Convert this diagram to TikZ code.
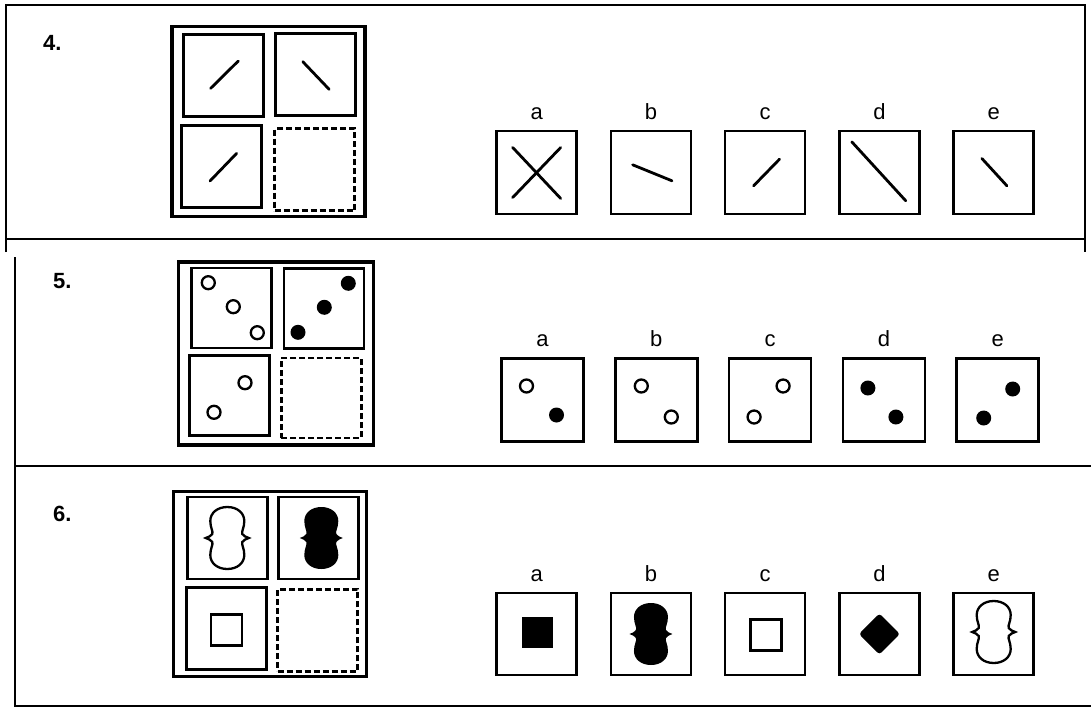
\documentclass[tikz,border=0pt]{standalone}
\usepackage{fontspec}
\setmainfont{Liberation Sans}
\usetikzlibrary{positioning}
\tikzset{
panel/.style={line width=2.2pt},
matframe/.style={draw,line width=3.4pt,inner sep=0pt},
mcell/.style={draw,line width=2.8pt,minimum width=80pt,minimum height=82pt,inner sep=0pt},
emptycell/.style={mcell,dash pattern=on 6pt off 3pt},
opt/.style={draw,line width=2.5pt,minimum width=80pt,minimum height=83pt,inner sep=0pt},
letter/.style={font=\fontsize{22}{24}\selectfont,inner sep=0pt},
num/.style={font=\fontsize{22}{24}\selectfont\bfseries,inner sep=0pt,anchor=base west},
bar/.style={line width=2.8pt,line cap=round},
ring/.style={draw,line width=2.3pt},
pinch/.pic={
\path[pic actions] (0,-31) .. controls (10,-31) and (17,-25) .. (17,-17)
.. controls (17,-10) and (14,-7) .. (15,-4)
.. controls (16,-2) and (19,-1) .. (21.5,0)
.. controls (19,1) and (16,2) .. (15,4)
.. controls (14,7) and (17,10) .. (17,17)
.. controls (17,25) and (10,31) .. (0,31)
.. controls (-10,31) and (-17,25) .. (-17,17)
.. controls (-17,10) and (-14,7) .. (-15,4)
.. controls (-16,2) and (-19,1) .. (-21.5,0)
.. controls (-19,-1) and (-16,-2) .. (-15,-4)
.. controls (-14,-7) and (-17,-10) .. (-17,-17)
.. controls (-17,-25) and (-10,-31) .. (0,-31) -- cycle;
}
}

\begin{document}
\begin{tikzpicture}[x=1pt,y=-1pt]
\useasboundingbox (0,0) rectangle (1091,709);

% panels
\draw[panel] (6,252) -- (6,5) -- (1085,5) -- (1085,252);
\draw[panel] (6,239) -- (1085,239);
\draw[panel] (15,257) -- (15,706) -- (1091,706);
\draw[panel] (15,466) -- (1091,466);

\node[num](n4) at (43,51){4.};
\node[num](n5) at (53,288){5.};
\node[num](n6) at (53,521){6.};

% item 4
\node[matframe,minimum width=193pt,minimum height=190pt](m4) at (268.3,121.7){};
\node[mcell](m4tl) at (223.7,75.8){};
\node[mcell](m4tr) at (315.8,74.2){};
\node[mcell](m4bl) at (221.7,166.7){};
\node[emptycell](m4br) at (314.5,169.5){};
\draw[bar] (m4tl.center) ++(-13,12.5) -- ++(27.6,-27.3);
\draw[bar] (m4tr.center) ++(-13,-12.5) -- ++(26.3,27.6);
\draw[bar] (m4bl.center) ++(-11.7,14.3) -- ++(26.7,-27.7);

\node[opt](o4a) at (536.7,172.5){};
\foreach \p/\q in {a/b,b/c,c/d,d/e}
\node[opt,right=31.75pt of o4\p](o4\q){};
\foreach \q in {a,b,c,d,e}
\node[letter,above=10pt of o4\q](l4\q){\q};
\draw[bar] (o4a.center) ++(-24,-25) -- ++(48,51);
\draw[bar] (o4a.center) ++(24,-25) -- ++(-48,50);
\draw[bar] (o4b.center) ++(-18.3,-7.7) -- ++(39.3,16);
\draw[bar] (o4c.center) ++(-11.7,13.4) -- ++(26,-26.7);
\draw[bar] (o4d.center) ++(-27.7,-30.7) -- ++(54,59);
\draw[bar] (o4e.center) ++(-11.8,-14) -- ++(25,27.3);

% item 5
\node[matframe,minimum width=195pt,minimum height=183pt](m5) at (275.8,353.3){};
\node[mcell,minimum height=80pt](m5tl) at (231.7,308){};
\node[mcell,minimum height=80pt](m5tr) at (324,308.3){};
\node[mcell,minimum height=80pt](m5bl) at (229.5,395.8){};
\node[emptycell,minimum height=80pt](m5br) at (321.2,398){};
\foreach \dx/\dy in {-23.4/-25.3,1.6/-1.3,25.6/24.7}
\draw[ring] (m5tl.center) ++(\dx,\dy) circle[radius=6.5];
\foreach \dx/\dy in {24.3/-25,0.3/-1,-26/24}
\fill (m5tr.center) ++(\dx,\dy) circle[radius=7.5];
\foreach \dx/\dy in {15.5/-13.1,-15.5/16.5}
\draw[ring] (m5bl.center) ++(\dx,\dy) circle[radius=6.5];

\node[opt,minimum width=82pt](o5a) at (542.5,400){};
\foreach \p/\q in {a/b,b/c,c/d,d/e}
\node[opt,minimum width=82pt,right=29.3pt of o5\p](o5\q){};
\foreach \q in {a,b,c,d,e}
\node[letter,above=10pt of o5\q](l5\q){\q};
\draw[ring] (o5a.center) ++(-16,-14) circle[radius=6.5];
\fill (o5a.center) ++(14,15) circle[radius=7.5];
\draw[ring] (o5b.center) ++(-15,-14) circle[radius=6.5];
\draw[ring] (o5b.center) ++(15,17) circle[radius=6.5];
\draw[ring] (o5c.center) ++(13,-14) circle[radius=6.5];
\draw[ring] (o5c.center) ++(-16,17) circle[radius=6.5];
\fill (o5d.center) ++(-16,-12) circle[radius=7.5];
\fill (o5d.center) ++(12,17) circle[radius=7.5];
\fill (o5e.center) ++(15,-11) circle[radius=7.5];
\fill (o5e.center) ++(-14,18) circle[radius=7.5];

% item 6
\node[matframe,minimum width=193pt,minimum height=185pt](m6) at (270,584.2){};
\node[mcell](m6tl) at (227.3,538){};
\node[mcell](m6tr) at (318.3,538){};
\node[mcell](m6bl) at (226.7,628.8){};
\node[emptycell](m6br) at (317.5,630.3){};
\pic[draw,line width=2.3pt] at (m6tl.center) {pinch};
\pic[fill=black] at ([xshift=3pt]m6tr.center) {pinch};
\node[draw,line width=2.5pt,minimum size=31pt,inner sep=0pt](q6) at ([yshift=-1pt]m6bl.center){};

\node[opt,minimum height=82pt](o6a) at (536.7,634){};
\foreach \p/\q in {a/b,b/c,c/d,d/e}
\node[opt,minimum height=82pt,right=31.75pt of o6\p](o6\q){};
\foreach \q in {a,b,c,d,e}
\node[letter,above=10pt of o6\q](l6\q){\q};
\node[fill=black,minimum size=31pt,inner sep=0pt](s6a) at ([shift={(1,-2)}]o6a.center){};
\pic[fill=black] at (o6b.center) {pinch};
\node[draw,line width=2.5pt,minimum size=31pt,inner sep=0pt](s6c) at ([shift={(1,1)}]o6c.center){};
\node[fill=black,minimum size=29pt,inner sep=0pt,rotate=45,rounded corners=3pt](s6d) at (o6d.center){};
\pic[draw,line width=2.3pt] at ([yshift=2pt]o6e.center) {pinch};

\end{tikzpicture}
\end{document}
